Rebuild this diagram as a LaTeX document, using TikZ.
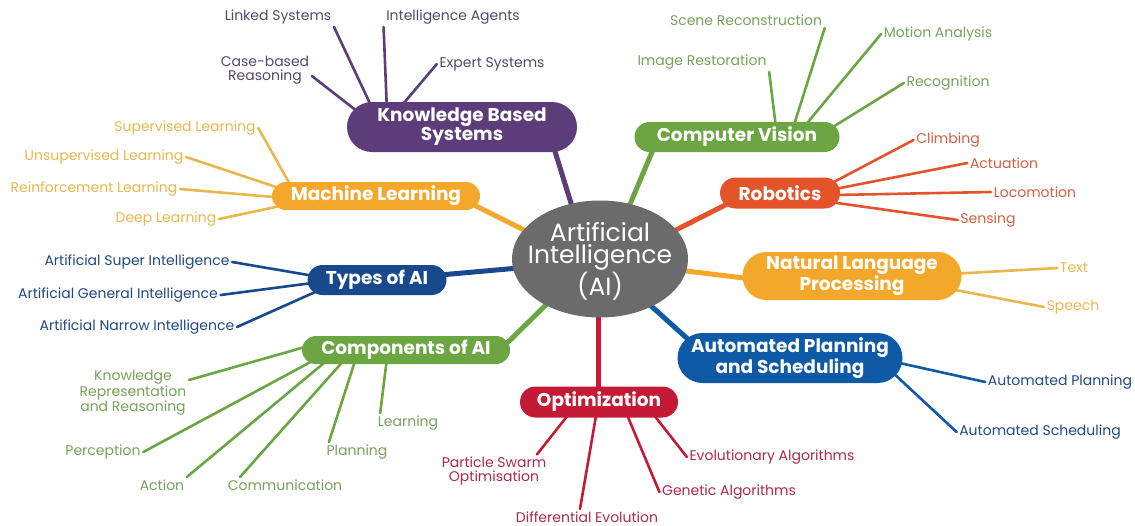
\documentclass[tikz,border=0pt]{standalone}
\usepackage{fontspec}
\setmainfont{Poppins}
\usetikzlibrary{shapes.misc,shapes.geometric,calc,backgrounds}
\definecolor{cpurple}{HTML}{5C3D7A}
\definecolor{tpurple}{HTML}{55486A}
\definecolor{cgreen}{HTML}{6CA643}
\definecolor{tgreen}{HTML}{77A35A}
\definecolor{corange}{HTML}{E5532A}
\definecolor{torange}{HTML}{D5603F}
\definecolor{cyellow}{HTML}{F3A82B}
\definecolor{tyellow}{HTML}{E9B84C}
\definecolor{cnavy}{HTML}{17498C}
\definecolor{tnavy}{HTML}{1F4A84}
\definecolor{cblue}{HTML}{0E5AA7}
\definecolor{cred}{HTML}{C51A36}
\definecolor{tred}{HTML}{B0284A}
\definecolor{cgrey}{HTML}{6B6B6B}
\tikzset{
  hub/.style={rounded rectangle, fill=#1, text=white, inner sep=0pt, align=center,
    font=\bfseries\fontsize{18.5}{19}\selectfont},
  leaf/.style={text=#1, inner sep=2.5pt, align=center, font=\fontsize{14}{13.5}\selectfont},
  link/.style={draw=#1, line width=2.6pt, line cap=round},
  trunk/.style={draw=#1, line width=5pt},
}
\begin{document}
\begin{tikzpicture}[x=1pt,y=-1pt]
\useasboundingbox (0,0) rectangle (1135,525);
% centre
\node[ellipse, fill=cgrey, minimum width=176pt, minimum height=117pt, inner sep=0pt] (ai) at (600,259) {};
\node[text=white, align=center, inner sep=0pt, font=\fontsize{25}{22.5}\selectfont] (aitext) at (600,261) {Artificial\\Intelligence\\(AI)};
% hubs
\node[hub=cpurple, minimum width=230pt, minimum height=50pt] (kbs) at (462,127) {Knowledge Based\\Systems};
\node[hub=cgreen, minimum width=205pt, minimum height=30pt] (cv) at (737,137) {Computer Vision};
\node[hub=corange, minimum width=120pt, minimum height=31pt] (rob) at (780,193) {Robotics};
\node[hub=cyellow, minimum width=219pt, minimum height=48pt] (nlp) at (852,276) {Natural Language\\Processing};
\node[hub=cyellow, minimum width=208pt, minimum height=28pt] (ml) at (376,196) {Machine Learning};
\node[hub=cnavy, minimum width=139pt, minimum height=30pt] (typ) at (377,280) {Types of AI};
\node[hub=cgreen, minimum width=208pt, minimum height=28pt] (comp) at (406,350) {Components of AI};
\node[hub=cblue, minimum width=225pt, minimum height=50pt] (aps) at (790,358) {Automated Planning\\and Scheduling};
\node[hub=cred, minimum width=158pt, minimum height=31pt] (opt) at (599,402) {Optimization};
% leaves
\node[leaf=tpurple] (ls) at (278,17) {Linked Systems};
\node[leaf=tpurple] (ia) at (453,17) {Intelligence Agents};
\node[leaf=tpurple] (cbr) at (265,70) {Case-based\\Reasoning};
\node[leaf=tpurple] (es) at (492,64) {Expert Systems};
\node[leaf=tgreen] (sr) at (746,20) {Scene Reconstruction};
\node[leaf=tgreen] (ma) at (938,34) {Motion Analysis};
\node[leaf=tgreen] (ir) at (702,62) {Image Restoration};
\node[leaf=tgreen] (rec) at (948,83) {Recognition};
\node[leaf=torange] (cl) at (948,140) {Climbing};
\node[leaf=torange] (act) at (1004,163) {Actuation};
\node[leaf=torange] (loc) at (1035,192) {Locomotion};
\node[leaf=torange] (sen) at (988,220) {Sensing};
\node[leaf=tyellow] (txt) at (1074,268) {Text};
\node[leaf=tyellow] (sp) at (1073,307) {Speech};
\node[leaf=tyellow] (sl) at (185,128) {Supervised Learning};
\node[leaf=tyellow] (ul) at (104,157) {Unsupervised Learning};
\node[leaf=tyellow] (rl) at (94,189) {Reinforcement Learning};
\node[leaf=tyellow] (dl) at (166,219) {Deep Learning};
\node[leaf=tnavy] (asi) at (137,262) {Artificial Super Intelligence};
\node[leaf=tnavy] (agi) at (118,295) {Artificial General Intelligence};
\node[leaf=tnavy] (ani) at (137,327) {Artificial Narrow Intelligence};
\node[leaf=tgreen] (krr) at (133,393) {Knowledge\\Representation\\and Reasoning};
\node[leaf=tgreen] (per) at (103,452) {Perception};
\node[leaf=tgreen] (act2) at (162,485) {Action};
\node[leaf=tgreen] (com) at (285,485) {Communication};
\node[leaf=tgreen] (pl) at (357,452) {Planning};
\node[leaf=tgreen] (lr) at (408,423) {Learning};
\node[leaf=tred] (pso) at (494,471) {Particle Swarm\\Optimisation};
\node[leaf=tred] (de) at (587,517) {Differential Evolution};
\node[leaf=tred] (ga) at (729,492) {Genetic Algorithms};
\node[leaf=tred] (ea) at (772,457) {Evolutionary Algorithms};
\node[leaf=tnavy] (apl) at (1060,382) {Automated Planning};
\node[leaf=tnavy] (asc) at (1040,432) {Automated Scheduling};
\begin{pgfonlayer}{background}
\fill[white] (0,0) rectangle (1135,525);
% trunks
\draw[trunk=cpurple] ($(kbs)+(91,18)$) -- ($(ai)+(-25,-43)$);
\draw[trunk=cgreen] ($(cv)+(-82,8)$) -- ($(ai)+(25,-43)$);
\draw[trunk=corange] ($(rob)+(-45,7)$) -- ($(ai)+(70,-26)$);
\draw[trunk=cyellow] ($(nlp)+(-92,4)$) -- ($(ai)+(70,10)$);
\draw[trunk=cyellow] ($(ml)+(94,7)$) -- ($(ai)+(-70,-26)$);
\draw[trunk=cnavy] ($(typ)+(63,-5)$) -- ($(ai)+(-70,8)$);
\draw[trunk=cgreen] ($(comp)+(94,0)$) -- ($(ai)+(-45,37)$);
\draw[trunk=cblue] ($(aps)+(-90,-8)$) -- ($(ai)+(40,37)$);
\draw[trunk=cred] ($(opt)+(-1,-7)$) -- ($(ai)+(-2,42)$);
% leaf links
\draw[link=cpurple] (ls.south east) -- ($(kbs)+(-88,-15)$);
\draw[link=cpurple] (ia.south west) -- ($(kbs)+(-75,-15)$);
\draw[link=cpurple] ($(cbr.east)+(0,6)$) -- ($(kbs)+(-100,-12)$);
\draw[link=cpurple] (es.west) -- ($(kbs)+(-64,-17)$);
\draw[link=cgreen] (sr.south east) -- ($(cv)+(56,-9)$);
\draw[link=cgreen] (ma.west) -- ($(cv)+(66,-9)$);
\draw[link=cgreen] (ir.south east) -- ($(cv)+(39,-9)$);
\draw[link=cgreen] (rec.west) -- ($(cv)+(91,-7)$);
\draw[link=corange] (cl.west) -- ($(rob)+(50,-9)$);
\draw[link=corange] (act.west) -- ($(rob)+(50,-3)$);
\draw[link=corange] (loc.west) -- ($(rob)+(55,2)$);
\draw[link=corange] (sen.west) -- ($(rob)+(50,9)$);
\draw[link=tyellow] (txt.west) -- ($(nlp)+(98,-2)$);
\draw[link=tyellow] (sp.west) -- ($(nlp)+(93,12)$);
\draw[link=tyellow] (sl.east) -- ($(ml)+(-84,-8)$);
\draw[link=tyellow] (ul.east) -- ($(ml)+(-91,-6)$);
\draw[link=tyellow] (rl.east) -- ($(ml)+(-91,2)$);
\draw[link=tyellow] (dl.east) -- ($(ml)+(-91,9)$);
\draw[link=cnavy] (asi.east) -- ($(typ)+(-57,-3)$);
\draw[link=cnavy] (agi.east) -- ($(typ)+(-57,2)$);
\draw[link=cnavy] (ani.east) -- ($(typ)+(-55,9)$);
\draw[link=cgreen] ($(krr.east)+(0,-13)$) -- ($(comp)+(-94,-5)$);
\draw[link=cgreen] (per.east) -- ($(comp)+(-88,8)$);
\draw[link=cgreen] (act2.north east) -- ($(comp)+(-76,8)$);
\draw[link=cgreen] ($(com.north west)+(15,0)$) -- ($(comp)+(-60,8)$);
\draw[link=cgreen] ($(pl.north west)+(5,0)$) -- ($(comp)+(-50,8)$);
\draw[link=cgreen] ($(lr.north west)+(5,0)$) -- ($(comp)+(-19,8)$);
\draw[link=cred] ($(pso.north east)+(-12,0)$) -- ($(opt)+(-27,8)$);
\draw[link=cred] ($(de.north)+(-7,0)$) -- ($(opt)+(-2,8)$);
\draw[link=cred] (ga.west) -- ($(opt)+(26,8)$);
\draw[link=cred] (ea.west) -- ($(opt)+(51,8)$);
\draw[link=cblue] (apl.west) -- ($(aps)+(105,4)$);
\draw[link=cblue] (asc.west) -- ($(aps)+(100,12)$);
\end{pgfonlayer}
\end{tikzpicture}
\end{document}
